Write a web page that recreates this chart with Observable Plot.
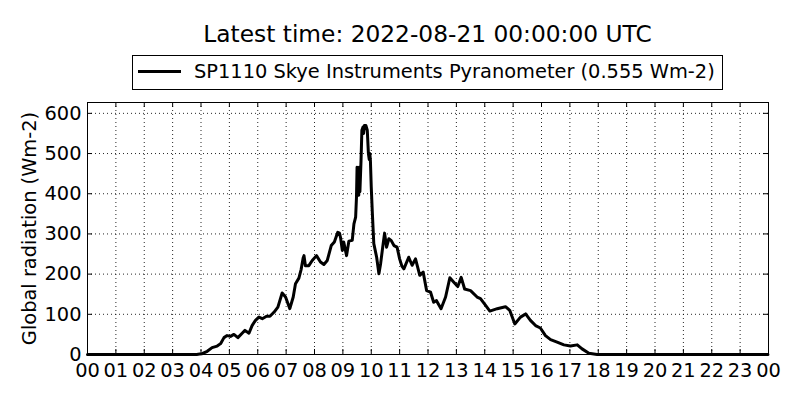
<!DOCTYPE html>
<html>
<head>
<meta charset="utf-8">
<script src="https://cdn.jsdelivr.net/npm/d3@7"></script>
<script src="https://cdn.jsdelivr.net/npm/@observablehq/plot@0.6"></script>
<style>
  html, body { margin: 0; padding: 0; background: #fff; }
  body { width: 800px; height: 400px; overflow: hidden; font-family: "DejaVu Sans", sans-serif; color: #000; }
  #header { position: relative; width: 800px; height: 95px; }
  #title { position: absolute; left: 87px; width: 681px; top: 22.3px; text-align: center; font-size: 23.3px; line-height: 23.3px; white-space: nowrap; }
  #legend { position: absolute; left: 132px; top: 55px; width: 589px; height: 33px; border: 1px solid #000; }
  #legend .swatch { position: absolute; left: 5px; top: 13.5px; width: 43px; height: 3px; background: #000; }
  #legend .label { position: absolute; left: 61px; top: 5.9px; font-size: 19.4px; line-height: 19.4px; white-space: nowrap; }
</style>
</head>
<body>
<div id="header">
  <div id="title"></div>
  <div id="legend"><div class="swatch"></div><div class="label"></div></div>
</div>
<div id="chart"></div>
<script>
const titleText = "Latest time: 2022-08-21 00:00:00 UTC";
const seriesName = "SP1110 Skye Instruments Pyranometer (0.555 Wm-2)";
const yLabel = "Global radiation (Wm-2)";

// time of day in hours (UTC)
const hours = [
  0, 1, 2, 3, 3.6, 3.85, 3.95, 4.04, 4.22, 4.39, 4.57, 4.69, 4.81, 4.92, 5.04, 5.16, 5.3, 5.45, 5.55, 5.69,
  5.8, 5.92, 6.04, 6.16, 6.31, 6.43, 6.57, 6.71, 6.86, 6.98, 7.13, 7.25, 7.33, 7.45, 7.53, 7.6, 7.63, 7.68,
  7.8, 7.92, 8.07, 8.21, 8.33, 8.45, 8.59, 8.7, 8.82, 8.88, 8.92, 8.98, 9.03, 9.13, 9.21, 9.33, 9.39, 9.45,
  9.48, 9.5, 9.52, 9.54, 9.56, 9.58, 9.6, 9.64, 9.67, 9.71, 9.73, 9.76, 9.81, 9.86, 9.9, 9.93, 9.95, 9.97,
  10.0, 10.04, 10.09, 10.19, 10.27, 10.33, 10.42, 10.47, 10.54, 10.62, 10.7, 10.8, 10.91, 11.0, 11.08, 11.15,
  11.32, 11.44, 11.56, 11.71, 11.83, 11.95, 12.09, 12.2, 12.3, 12.46, 12.62, 12.77, 12.91, 13.05, 13.17, 13.29,
  13.5, 13.73, 13.85, 14.03, 14.18, 14.44, 14.73, 14.88, 15.06, 15.26, 15.44, 15.61, 15.79, 15.96, 16.14, 16.32,
  16.55, 16.79, 17.02, 17.26, 17.43, 17.67, 17.96, 19, 20, 21, 22, 23, 23.98
];
// global radiation (Wm-2)
const radiation = [
  0, 0, 0, 0, 0, 0, 1, 2, 8, 17, 21, 27, 42, 47, 45, 50, 42, 53, 60, 53,
  72, 85, 93, 89, 95, 95, 105, 118, 153, 143, 114, 143, 176, 190, 212, 240, 246, 221,
  221, 234, 246, 230, 224, 234, 271, 280, 304, 302, 290, 259, 280, 246, 282, 284, 325, 342,
  392, 466, 400, 460, 396, 466, 405, 483, 558, 566, 550, 570, 570, 558, 500, 485, 500, 483,
  417, 350, 276, 242, 201, 226, 276, 302, 267, 288, 284, 271, 267, 238, 220, 213,
  242, 222, 238, 197, 205, 159, 155, 130, 134, 114, 143, 191, 180, 169, 192, 163,
  159, 143, 139, 122, 108, 114, 119, 110, 76, 93, 101, 85, 72, 66, 47, 37,
  31, 24, 21, 24, 14, 3, 0, 0, 0, 0, 0, 0, 0
];
const xTicks = d3.range(0, 25);          // 00 .. 23, 00
const yTicks = [0, 100, 200, 300, 400, 500, 600];
const yMax = 627;

document.getElementById("title").textContent = titleText;
document.querySelector("#legend .label").textContent = seriesName;

const data = hours.map((h, i) => ({h, v: radiation[i]}));
const fs = 19.4;

const chart = Plot.plot({
  width: 800,
  height: 305,
  marginTop: 7,
  marginBottom: 46,
  marginLeft: 87,
  marginRight: 32,
  style: {fontFamily: "DejaVu Sans, sans-serif", fontSize: "19.4px", background: "#fff", overflow: "visible", color: "#000"},
  x: {domain: [0, 24]},
  y: {domain: [0, yMax]},
  marks: [
    Plot.gridX(xTicks, {stroke: "#000", strokeOpacity: 0.85, strokeWidth: 1, strokeDasharray: "1,3"}),
    Plot.gridY(yTicks, {stroke: "#000", strokeOpacity: 0.85, strokeWidth: 1, strokeDasharray: "1,3"}),
    // inward ticks
    Plot.ruleX(xTicks, {x: d => d, y1: 0, y2: 0, insetTop: -5, stroke: "#000", strokeWidth: 1}),
    Plot.ruleX(xTicks, {x: d => d, y1: yMax, y2: yMax, insetBottom: -5, stroke: "#000", strokeWidth: 1}),
    Plot.ruleY(yTicks, {y: d => d, x1: 0, x2: 0, insetRight: -5, stroke: "#000", strokeWidth: 1}),
    Plot.ruleY(yTicks, {y: d => d, x1: 24, x2: 24, insetLeft: -5, stroke: "#000", strokeWidth: 1}),
    Plot.axisX(xTicks, {tickSize: 0, tickPadding: 9, tickFormat: d => String(d % 24).padStart(2, "0"), label: null, fontSize: fs, fill: "#000"}),
    Plot.axisY(yTicks, {tickSize: 0, tickPadding: 6, tickFormat: d => String(d), label: null, fontSize: fs, fill: "#000"}),
    Plot.text([yLabel], {text: d => d, frameAnchor: "left", rotate: -90, dx: -58, textAnchor: "middle", lineAnchor: "middle", fontSize: fs, fill: "#000"}),
    Plot.line(data, {x: "h", y: "v", stroke: "#000", strokeWidth: 3, strokeLinejoin: "round"}),
    Plot.frame({stroke: "#000", strokeWidth: 1})
  ]
});
chart.style.display = "block";
document.getElementById("chart").appendChild(chart);
</script>
</body>
</html>
